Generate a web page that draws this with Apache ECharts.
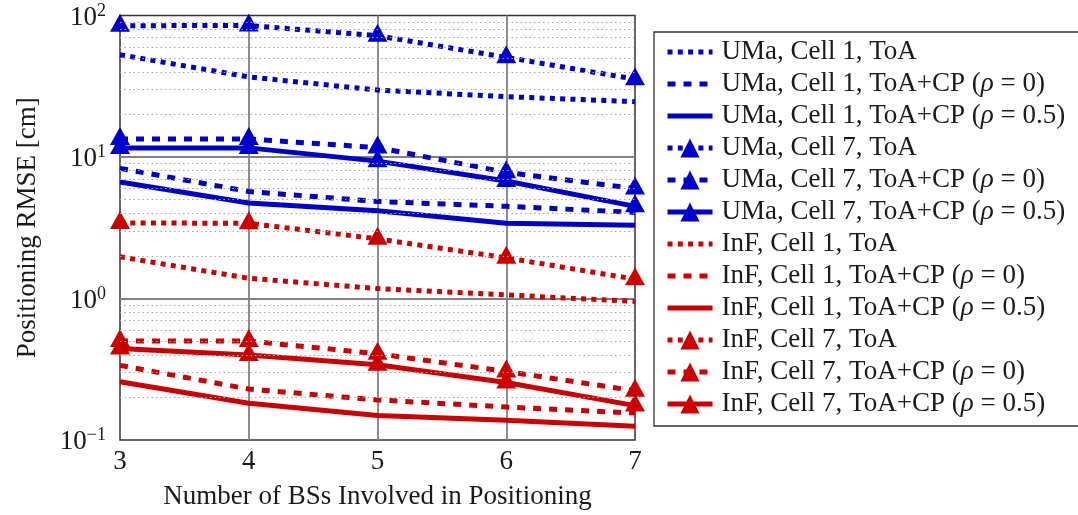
<!DOCTYPE html>
<html><head><meta charset="utf-8">
<script src="https://cdn.jsdelivr.net/npm/echarts@6/dist/echarts.min.js"></script>
<style>html,body{margin:0;padding:0;background:#fff}#c{width:1078px;height:515px}</style>
</head><body><div id="c"></div>
<script>
// ---- data ----
const bsCounts = [3, 4, 5, 6, 7];
const yTickExponents = [-1, 0, 1, 2];
const minorGridValues = [0.2, 0.3, 0.4, 0.5, 0.6, 0.7, 0.8, 0.9, 2, 3, 4, 5, 6, 7, 8, 9, 20, 30, 40, 50, 60, 70, 80, 90];
const seriesNames = [
  'UMa, Cell 1, ToA',
  'UMa, Cell 1, ToA+CP (ρ = 0)',
  'UMa, Cell 1, ToA+CP (ρ = 0.5)',
  'UMa, Cell 7, ToA',
  'UMa, Cell 7, ToA+CP (ρ = 0)',
  'UMa, Cell 7, ToA+CP (ρ = 0.5)',
  'InF, Cell 1, ToA',
  'InF, Cell 1, ToA+CP (ρ = 0)',
  'InF, Cell 1, ToA+CP (ρ = 0.5)',
  'InF, Cell 7, ToA',
  'InF, Cell 7, ToA+CP (ρ = 0)',
  'InF, Cell 7, ToA+CP (ρ = 0.5)'
];
const umaCell1ToA  = [52.8, 36.8, 29.7, 26.7, 24.6];
const umaCell1CP0  = [8.31, 5.7, 4.85, 4.48, 4.06];
const umaCell1CP05 = [6.66, 4.73, 4.17, 3.4, 3.3];
const umaCell7ToA  = [84.7, 85, 72, 50.6, 35.5];
const umaCell7CP0  = [13.4, 13.4, 11.65, 7.79, 5.98];
const umaCell7CP05 = [11.6, 11.6, 9.35, 6.77, 4.48];
const infCell1ToA  = [1.97, 1.39, 1.175, 1.06, 0.953];
const infCell1CP0  = [0.337, 0.229, 0.192, 0.171, 0.155];
const infCell1CP05 = [0.258, 0.182, 0.149, 0.138, 0.125];
const infCell7ToA  = [3.42, 3.4, 2.64, 1.94, 1.37];
const infCell7CP0  = [0.50, 0.50, 0.407, 0.305, 0.223];
const infCell7CP05 = [0.443, 0.399, 0.34, 0.255, 0.175];
const seriesValues = [umaCell1ToA, umaCell1CP0, umaCell1CP05, umaCell7ToA, umaCell7CP0, umaCell7CP05,
                      infCell1ToA, infCell1CP0, infCell1CP05, infCell7ToA, infCell7CP0, infCell7CP05];

// ---- styles ----
const BLUE = '#0000cc', RED = '#cc0000';
const FONT = "'Liberation Serif', 'Times New Roman', serif";
const LW = 5;
const DASH = { dotted: [5, 5.3], dashed: [8, 8], solid: 'solid' };
const styleOf = [
  [BLUE, 'dotted', false], [BLUE, 'dashed', false], [BLUE, 'solid', false],
  [BLUE, 'dotted', true],  [BLUE, 'dashed', true],  [BLUE, 'solid', true],
  [RED, 'dotted', false],  [RED, 'dashed', false],  [RED, 'solid', false],
  [RED, 'dotted', true],   [RED, 'dashed', true],   [RED, 'solid', true]
];

const series = seriesNames.map((name, k) => {
  const [color, dash, marker] = styleOf[k];
  return {
    name, type: 'line', clip: false, z: 3,
    data: bsCounts.map((x, i) => [x, seriesValues[k][i]]),
    symbol: 'triangle',
    showSymbol: marker,
    symbolSize: [20, 18],
    symbolOffset: [0, -3],
    itemStyle: { color: marker ? color : 'transparent' },
    lineStyle: { color, width: LW, type: DASH[dash], cap: 'butt' },
    emphasis: { disabled: true },
    animation: false
  };
});
series.unshift({
  name: '_minor', type: 'line', data: [], z: 1, silent: true,
  markLine: {
    silent: true, symbol: 'none', label: { show: false }, animation: false,
    lineStyle: { color: '#a6a6a6', type: [1.5, 3], width: 1 },
    data: minorGridValues.map(v => ({ yAxis: v }))
  }
});

function supLabel(v) {
  const e = Math.round(Math.log10(v));
  const ex = yTickExponents.find(t => t === e);
  if (ex === undefined) return '';
  return '{b|10}{s|' + (ex < 0 ? '\u2212' + (-ex) : String(ex)) + '}';
}

const chart = echarts.init(document.getElementById('c'), null, { renderer: 'canvas' });
chart.setOption({
  backgroundColor: '#fff',
  animation: false,
  grid: { left: 120, right: 443, top: 14, bottom: 72, show: true, borderColor: '#333', borderWidth: 1.5, backgroundColor: 'transparent' },
  xAxis: {
    type: 'value', min: 3, max: 7, interval: 1,
    name: 'Number of BSs Involved in Positioning', nameLocation: 'middle', nameGap: 43,
    nameTextStyle: { fontFamily: FONT, fontSize: 27, color: '#1a1a1a' },
    axisLine: { show: false }, axisTick: { show: false },
    axisLabel: { fontFamily: FONT, fontSize: 27, color: '#1a1a1a', margin: 8, formatter: v => String(bsCounts.find(b => b === v)) },
    splitLine: { show: true, showMinLine: false, showMaxLine: false, lineStyle: { color: '#808080', width: 1.8 } }
  },
  yAxis: {
    type: 'log', logBase: 10, min: 0.1, max: 100,
    name: 'Positioning RMSE [cm]', nameLocation: 'middle', nameGap: 79,
    nameTextStyle: { fontFamily: FONT, fontSize: 27, color: '#1a1a1a' },
    axisLine: { show: false }, axisTick: { show: false },
    axisLabel: {
      margin: 14, formatter: supLabel,
      rich: {
        b: { fontFamily: FONT, fontSize: 27, lineHeight: 27, color: '#1a1a1a', padding: [4, 0, 0, 0] },
        s: { fontFamily: FONT, fontSize: 18, lineHeight: 18, color: '#1a1a1a', verticalAlign: 'top' }
      }
    },
    splitLine: { show: true, showMinLine: false, showMaxLine: false, lineStyle: { color: '#808080', width: 1.8 } }
  },
  legend: {
    orient: 'vertical', left: 654, top: 32,
    padding: [4, 30, 6, 11],
    itemWidth: 45, itemHeight: 24, itemGap: 0,
    borderColor: '#333', borderWidth: 1.3, borderRadius: 0,
    selectedMode: false,
    data: seriesNames,
    lineStyle: { width: LW },
    formatter: n => n.replace('ρ', '{i|ρ}'),
    textStyle: {
      fontFamily: FONT, fontSize: 27, color: '#1a1a1a', lineHeight: 32, padding: [0, 0, 0, 4],
      rich: { i: { fontFamily: FONT, fontSize: 27, fontStyle: 'italic', lineHeight: 32, color: '#1a1a1a' } }
    }
  },
  series
});
</script>
</body></html>
